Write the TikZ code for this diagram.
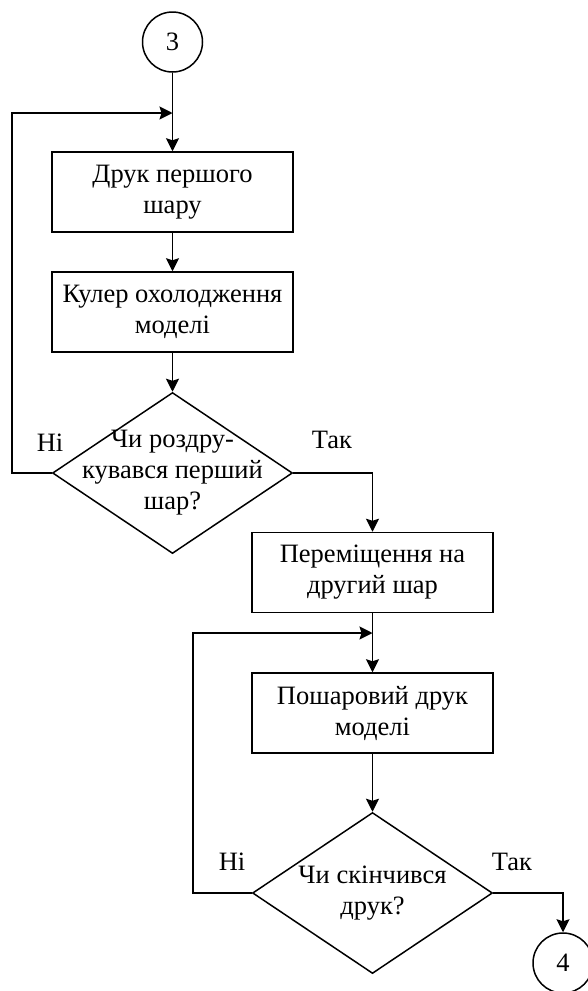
\documentclass[tikz,border=0pt]{standalone}
\usepackage{fontspec}
\setmainfont{Liberation Serif}
\usetikzlibrary{arrows.meta}
\usetikzlibrary{shapes.geometric}
\usetikzlibrary{positioning}

\tikzset{
    every node/.style={font=\fontsize{26.5}{31}\selectfont},
    block/.style={draw, line width=1.5pt, minimum width=241, minimum height=80, align=center, inner sep=2pt},
    decision/.style={draw, diamond, line width=1.5pt, minimum width=240, minimum height=161, inner sep=0pt},
    connector/.style={draw, circle, line width=1.5pt, minimum size=60, inner sep=0pt},
    flow/.style={->, line width=1.5pt},
}

\begin{document}
\begin{tikzpicture}[x=1pt, y=-1pt, >={Stealth[length=13pt,width=13pt,inset=2pt]}]

    \useasboundingbox (0,0) rectangle (587,991);

    % first layer
    \node[connector] (c3) at (172.5,42) {3};
    \coordinate (m1) at (172.5,113);
    \node[block] (print1) at (172.5,192) {Друк першого\\шару};
    \node[block] (cool) at (172.5,312) {Кулер охолодження\\моделі};
    \node[decision] (d1) at (172.5,473) {};
    \node[align=center] (d1text) at (d1) {Чи роздру-\\кувався перший\\шар?};

    % remaining layers
    \node[block] (move) at (372.5,572.5) {Переміщення на\\другий шар};
    \coordinate (m2) at (372.5,633);
    \node[block] (print2) at (372.5,713) {Пошаровий друк\\моделі};
    \node[decision] (d2) at (372.5,893) {};
    \node[align=center] (d2text) at (d2) {Чи скінчився\\друк?};
    \node[connector] (c4) at (563,963) {4};

    \draw[flow] (c3) -- (print1);
    \draw[flow] (print1) -- (cool);
    \draw[flow] (cool) -- (d1);
    \draw[flow] (d1.west) -- (12,473) |- (m1);
    \draw[flow] (d1.east) -| (move.north);

    \draw[flow] (move) -- (print2);
    \draw[flow] (print2) -- (d2);
    \draw[flow] (d2.west) -- (193,893) |- (m2);
    \draw[flow] (d2.east) -| (c4.north);

    \node (no1) at (50,443) {Ні};
    \node (yes1) at (332,440) {Так};
    \node (no2) at (232,862) {Ні};
    \node (yes2) at (512,862) {Так};

\end{tikzpicture}
\end{document}
